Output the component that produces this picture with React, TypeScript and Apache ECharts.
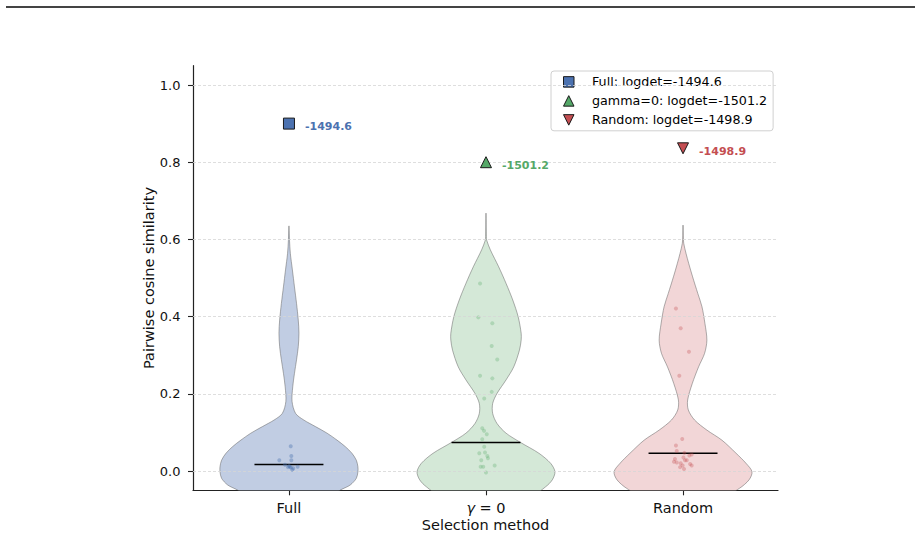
import React, { useEffect, useRef } from "react";
import * as echarts from "echarts";

// Category names and colours
const categories = ["Full", "γ = 0", "Random"];
const legendNames = ["Full", "gamma=0", "Random"];
const fillColors = ["#c1cde3", "#d4e8d7", "#f2d6d7"];
const mainColors = ["#4c72b0", "#55a868", "#c44e52"];
const pointColors = ["rgba(76,114,176,0.4)", "rgba(85,168,104,0.3)", "rgba(196,78,82,0.32)"];

// log-determinant per selection method and where its marker sits
const logdet = [-1494.6, -1501.2, -1498.9];
const markerY = [0.9, 0.8, 0.836];

// Medians of the pairwise similarity distributions
const medians = [0.017, 0.074, 0.046];

// Violin outlines: similarity levels and relative half-widths (1 = widest)
const fullLevels = [0.635, 0.598, 0.564, 0.521, 0.477, 0.434, 0.391, 0.357, 0.322, 0.288, 0.253, 0.218, 0.18, 0.149, 0.132, 0.115, 0.098, 0.08, 0.063, 0.046, 0.028, 0.011, -0.002, -0.019, -0.036, -0.047, -0.065];
const fullWidths = [0, 0.008, 0.02, 0.05, 0.08, 0.11, 0.135, 0.145, 0.135, 0.11, 0.08, 0.055, 0.045, 0.097, 0.216, 0.385, 0.553, 0.697, 0.818, 0.913, 0.977, 1.0, 1.0, 0.977, 0.89, 0.77, 0.55];

const gammaLevels = [0.668, 0.607, 0.598, 0.573, 0.529, 0.486, 0.443, 0.4, 0.357, 0.339, 0.313, 0.27, 0.236, 0.201, 0.175, 0.149, 0.123, 0.098, 0.074, 0.046, 0.02, -0.002, -0.023, -0.041, -0.065];
const gammaWidths = [0, 0.005, 0.01, 0.063, 0.184, 0.291, 0.388, 0.466, 0.51, 0.51, 0.485, 0.403, 0.291, 0.16, 0.097, 0.097, 0.16, 0.291, 0.5, 0.767, 0.937, 1.0, 0.961, 0.864, 0.65];

const randomLevels = [0.637, 0.611, 0.59, 0.564, 0.538, 0.503, 0.46, 0.426, 0.383, 0.339, 0.305, 0.27, 0.227, 0.184, 0.158, 0.132, 0.106, 0.08, 0.046, 0.02, -0.002, -0.023, -0.045, -0.065];
const randomWidths = [0, 0.003, 0.01, 0.043, 0.082, 0.139, 0.214, 0.274, 0.317, 0.346, 0.313, 0.226, 0.135, 0.067, 0.077, 0.168, 0.346, 0.563, 0.769, 0.913, 1.0, 0.957, 0.817, 0.6];

// Individual pair similarities: horizontal jitter and value
const fullJitter = [0.009, 0.012, 0.012, -0.049, -0.02, -0.005, 0.005, 0.01, 0.022, 0.044, 0.017, 0.0];
const fullValues = [0.064, 0.039, 0.028, 0.028, 0.016, 0.01, 0.011, 0.009, 0.007, 0.011, 0.003, 0.013];

const gammaJitter = [-0.03, -0.039, 0.032, 0.029, 0.057, -0.03, 0.032, 0.029, -0.009, -0.019, -0.01, 0.004, -0.019, -0.009, -0.034, -0.005, 0.007, 0.01, -0.024, 0.044, -0.027, -0.014, 0.0];
const gammaValues = [0.486, 0.398, 0.383, 0.324, 0.289, 0.247, 0.24, 0.205, 0.188, 0.111, 0.104, 0.095, 0.082, 0.063, 0.046, 0.048, 0.039, 0.033, 0.028, 0.014, 0.011, 0.011, -0.004];

const randomJitter = [-0.036, -0.012, 0.03, -0.019, -0.004, -0.036, -0.032, 0.007, 0.044, 0.032, 0.002, -0.041, 0.019, 0.01, -0.046, -0.032, -0.012, 0.036, 0.044, -0.002, -0.015, 0.005];
const randomValues = [0.421, 0.37, 0.309, 0.247, 0.083, 0.066, 0.052, 0.047, 0.043, 0.04, 0.035, 0.031, 0.028, 0.028, 0.024, 0.022, 0.02, 0.018, 0.014, 0.014, 0.01, 0.005];

const yTicks = [0, 0.2, 0.4, 0.6, 0.8, 1.0];

const profiles = [
  { levels: fullLevels, widths: fullWidths },
  { levels: gammaLevels, widths: gammaWidths },
  { levels: randomLevels, widths: randomWidths },
];
const jitters = [fullJitter, gammaJitter, randomJitter];
const values = [fullValues, gammaValues, randomValues];

const VIOLIN_HALF = 0.35;
const MEDIAN_HALF = 0.175;
const FONT = "DejaVu Sans";
const downTriangle = "path://M0,0L10,0L5,10Z";
const markerSymbols = ["rect", "triangle", downTriangle];

export default function App() {
  const ref = useRef<HTMLDivElement>(null);

  useEffect(() => {
    document.body.style.margin = "0";
    if (!ref.current) return;
    const chart = echarts.init(ref.current, null, { renderer: "svg" });

    const legendLabels = legendNames.map((n, i) => `${n}: logdet=${logdet[i].toFixed(1)}`);

    const violinSeries = {
      type: "custom",
      clip: true,
      z: 2,
      data: [[0, 0], [1, 0], [2, 0]],
      renderItem: (params: any, api: any) => {
        const i = params.dataIndex;
        const p = profiles[i];
        const right = p.levels.map((y, k) => api.coord([i + VIOLIN_HALF * p.widths[k], y]));
        const left = p.levels.map((y, k) => api.coord([i - VIOLIN_HALF * p.widths[k], y])).reverse();
        const m0 = api.coord([i - MEDIAN_HALF, medians[i]]);
        const m1 = api.coord([i + MEDIAN_HALF, medians[i]]);
        return {
          type: "group",
          children: [
            {
              type: "polygon",
              shape: { points: right.concat(left), smooth: 0.3 },
              style: { fill: fillColors[i], stroke: "rgba(110,110,110,0.55)", lineWidth: 1 },
            },
            {
              type: "line",
              z2: 10,
              shape: { x1: m0[0], y1: m0[1], x2: m1[0], y2: m1[1] },
              style: { stroke: "#000", lineWidth: 1.5 },
            },
          ],
        };
      },
    };

    const pointSeries = values.map((vals, i) => ({
      type: "scatter",
      z: 3,
      symbolSize: 4,
      silent: true,
      itemStyle: { color: pointColors[i], opacity: 1 },
      data: vals.map((v, k) => [i + jitters[i][k], v]),
    }));

    const markerSeries = logdet.map((ld, i) => ({
      type: "scatter",
      name: legendLabels[i],
      z: 5,
      symbol: markerSymbols[i],
      symbolSize: 11,
      itemStyle: { color: mainColors[i], borderColor: "#1a1a1a", borderWidth: 1, opacity: 1 },
      label: {
        show: true,
        position: "right",
        distance: 10,
        offset: [0, 3],
        formatter: () => ld.toFixed(1),
        color: mainColors[i],
        opacity: 1,
        fontWeight: "bold",
        fontSize: 11,
        fontFamily: FONT,
      },
      data: [[i, markerY[i]]],
    }));

    const gridLineSeries = {
      type: "line",
      z: 1,
      data: [],
      silent: true,
      markLine: {
        silent: true,
        symbol: ["none", "none"],
        label: { show: false },
        lineStyle: { color: "#d6d6d6", width: 0.8, type: [3, 2] },
        data: yTicks.map((t) => ({ yAxis: t })),
      },
    };

    chart.setOption({
      animation: false,
      textStyle: { fontFamily: FONT },
      graphic: [
        { type: "rect", shape: { x: 6, y: 6, width: 909, height: 2 }, style: { fill: "#444" } },
      ],
      grid: { left: 193, right: 143, top: 65.7, bottom: 48.7 },
      legend: {
        left: 551,
        top: 71,
        orient: "vertical",
        padding: [4.4, 6, 4.4, 12],
        itemGap: 6,
        itemWidth: 10.5,
        itemHeight: 10.5,
        backgroundColor: "#fff",
        borderColor: "#d0d0d0",
        borderWidth: 1,
        borderRadius: 3,
        selectedMode: false,
        textStyle: { color: "#000", fontSize: 12.7, fontFamily: FONT, padding: [0, 0, 0, 13] },
        data: legendLabels.map((n, i) => ({
          name: n,
          icon: markerSymbols[i],
          itemStyle: { color: mainColors[i], borderColor: "#1a1a1a", borderWidth: 1, opacity: 1 },
        })),
      },
      xAxis: {
        type: "value",
        min: -0.487,
        max: 2.482,
        name: "Selection method",
        nameLocation: "middle",
        nameGap: 27.5,
        nameMoveOverlap: false,
        nameTextStyle: { fontSize: 14.5, color: "#111", fontFamily: FONT },
        axisLine: { show: true, onZero: false, lineStyle: { color: "#222", width: 1.2 } },
        axisTick: { show: true, customValues: [0, 1, 2], length: 5, lineStyle: { color: "#222", width: 1.1 } },
        axisLabel: {
          customValues: [0, 1, 2],
          margin: 10,
          fontSize: 14.5,
          color: "#111",
          fontFamily: FONT,
          formatter: (v: number) => {
            const idx = Math.round(v);
            if (idx === 1) return "{g|γ} = 0";
            return categories[idx] ?? "";
          },
          rich: {
            g: { fontStyle: "italic", fontSize: 14.5, fontFamily: FONT, color: "#111" },
          },
        },
        splitLine: { show: false },
      },
      yAxis: {
        type: "value",
        min: -0.05,
        max: 1.05,
        name: "Pairwise cosine similarity",
        nameLocation: "middle",
        nameGap: 37,
        nameMoveOverlap: false,
        nameTextStyle: { fontSize: 14.5, color: "#111", fontFamily: FONT },
        axisLine: { show: true, onZero: false, lineStyle: { color: "#222", width: 1.2 } },
        axisTick: { show: true, customValues: yTicks, length: 5, lineStyle: { color: "#222", width: 1.1 } },
        axisLabel: {
          customValues: yTicks,
          margin: 12.5,
          fontSize: 13,
          color: "#111",
          fontFamily: FONT,
          formatter: (v: number) => v.toFixed(1),
        },
        splitLine: { show: false },
      },
      series: [gridLineSeries, violinSeries, ...pointSeries, ...markerSeries],
    });

    return () => chart.dispose();
  }, []);

  return <div ref={ref} style={{ width: 921, height: 539 }} />;
}
